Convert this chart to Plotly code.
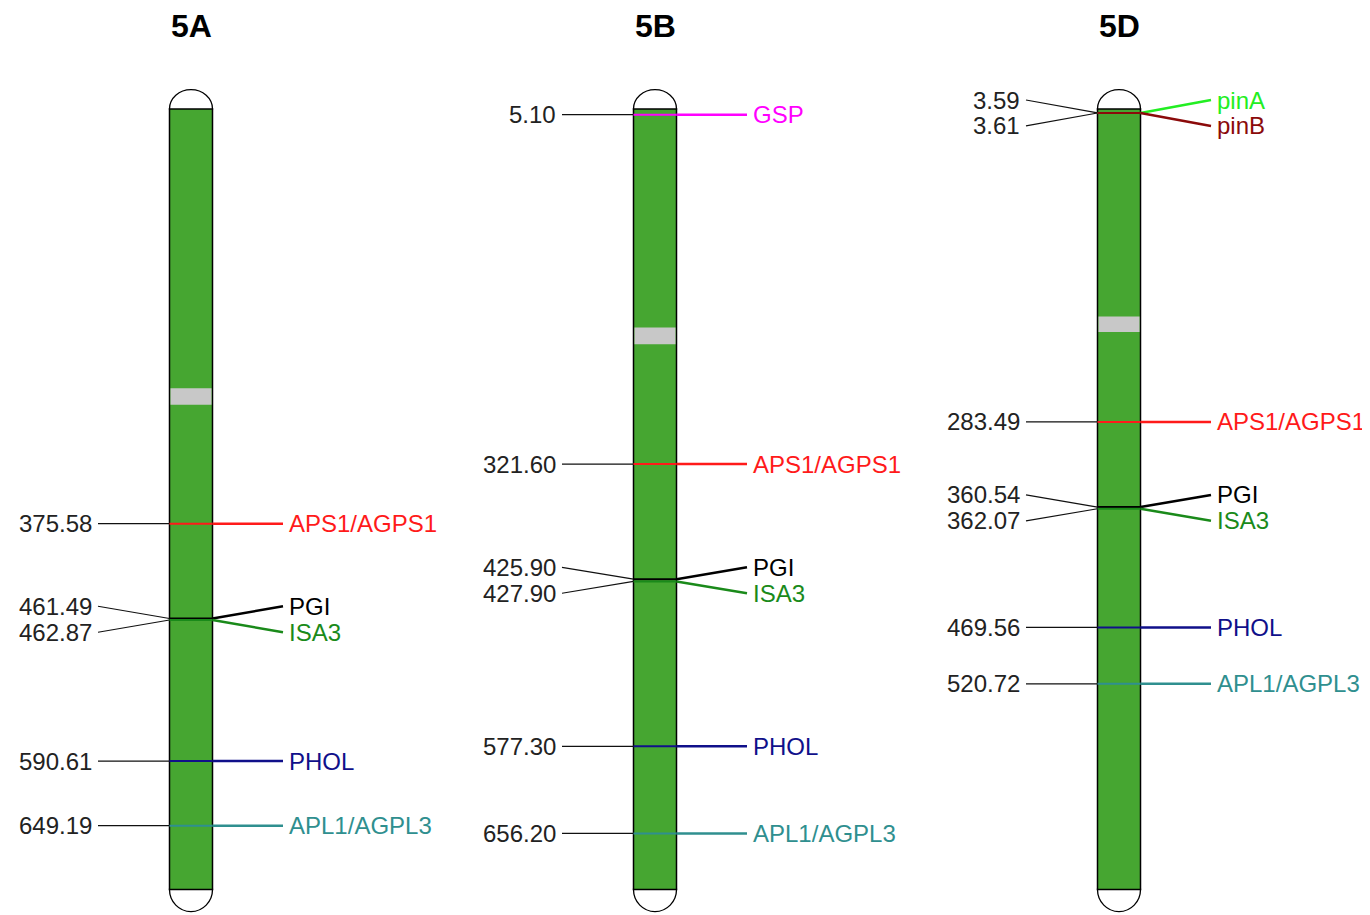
import plotly.graph_objects as go

# ---------------- data ----------------
chromosomes = ["5A", "5B", "5D"]
chrom_length = [707, 707, 707]          # Mb (drawn length)
cen_start = [253, 198, 188]             # centromere band start (Mb)
cen_end = [268, 213, 202]               # centromere band end (Mb)

genes_5A = ["APS1/AGPS1", "PGI", "ISA3", "PHOL", "APL1/AGPL3"]
pos_5A = [375.58, 461.49, 462.87, 590.61, 649.19]

genes_5B = ["GSP", "APS1/AGPS1", "PGI", "ISA3", "PHOL", "APL1/AGPL3"]
pos_5B = [5.10, 321.60, 425.90, 427.90, 577.30, 656.20]

genes_5D = ["pinA", "pinB", "APS1/AGPS1", "PGI", "ISA3", "PHOL", "APL1/AGPL3"]
pos_5D = [3.59, 3.61, 283.49, 360.54, 362.07, 469.56, 520.72]

gene_colors = {
    "APS1/AGPS1": "#ff1a1a",
    "PGI": "#000000",
    "ISA3": "#1a8a1a",
    "PHOL": "#10108a",
    "APL1/AGPL3": "#2f8f8f",
    "GSP": "#ff00ff",
    "pinA": "#22ee22",
    "pinB": "#8b0a0a",
}

all_genes = [genes_5A, genes_5B, genes_5D]
all_pos = [pos_5A, pos_5B, pos_5D]

# ---------------- layout constants ----------------
PAGE_OFF = 8                      # default body margin of the html page
W, H = 1370 - PAGE_OFF, 915 - PAGE_OFF
PX_PER_MB = 1.104
TOP_PX = 109 - PAGE_OFF
X0, DX = 191, 464
HALF = 21.5
LINE_L = 93
LINE_R = 92
TEXT_GAP_L = 97
TEXT_GAP_R = 96
LABEL_GAP = 23.5
GREEN = "#46a631"
FONT = "Liberation Sans, Arial, sans-serif"

y_top = -TOP_PX / PX_PER_MB
y_bot = y_top + H / PX_PER_MB


def spread(pos, gap=LABEL_GAP):
    order = sorted(range(len(pos)), key=lambda i: pos[i])
    groups, cur = [], [order[0]]
    for i in order[1:]:
        if pos[i] - pos[cur[-1]] < gap:
            cur.append(i)
        else:
            groups.append(cur)
            cur = [i]
    groups.append(cur)
    lab = [0.0] * len(pos)
    for g in groups:
        m = sum(pos[i] for i in g) / len(g)
        n = len(g)
        for k, i in enumerate(g):
            lab[i] = m + (k - (n - 1) / 2) * gap
    return lab


fig = go.Figure()
shapes = []
annotations = []

for ci, name in enumerate(chromosomes):
    cx = X0 + DX * ci
    L = chrom_length[ci]
    xl, xr = cx - HALF, cx + HALF
    # caps
    shapes.append(dict(type="circle", xref="x", yref="y", x0=xl, x1=xr,
                       y0=-17.5, y1=17.5, fillcolor="white",
                       line=dict(color="black", width=1.3), layer="below"))
    shapes.append(dict(type="circle", xref="x", yref="y", x0=xl, x1=xr,
                       y0=L - 20, y1=L + 20, fillcolor="white",
                       line=dict(color="black", width=1.3), layer="below"))
    # body
    shapes.append(dict(type="rect", xref="x", yref="y", x0=xl, x1=xr,
                       y0=0, y1=L, fillcolor=GREEN,
                       line=dict(color="black", width=1.5), layer="below"))
    # centromere
    shapes.append(dict(type="rect", xref="x", yref="y", x0=xl + 1, x1=xr - 1,
                       y0=cen_start[ci], y1=cen_end[ci], fillcolor="#c8c8c8",
                       line=dict(width=0), layer="below"))
    # title
    annotations.append(dict(x=cx, y=y_top + (26 - PAGE_OFF) / PX_PER_MB,
                            xref="x", yref="y",
                            text=name, showarrow=False, xanchor="center",
                            yanchor="middle",
                            font=dict(family=FONT, size=32, color="black",
                                      weight=700)))

    genes = all_genes[ci]
    pos = all_pos[ci]
    lab = spread(pos)
    for gi, g in enumerate(genes):
        col = gene_colors[g]
        p = pos[gi]
        ly = lab[gi]
        # left connector (black)
        fig.add_trace(go.Scatter(x=[cx - LINE_L, xl], y=[ly, p], mode="lines",
                                 line=dict(color="#111111", width=1.2),
                                 hoverinfo="skip", showlegend=False))
        # across chromosome
        fig.add_trace(go.Scatter(x=[xl, xr], y=[p, p], mode="lines",
                                 line=dict(color=col, width=2),
                                 hoverinfo="skip", showlegend=False))
        # right connector (coloured)
        fig.add_trace(go.Scatter(x=[xr, cx + LINE_R], y=[p, ly], mode="lines",
                                 line=dict(color=col, width=2.5),
                                 hoverinfo="skip", showlegend=False))
        annotations.append(dict(x=cx - TEXT_GAP_L, y=ly, xref="x", yref="y",
                                text=f"{p:.2f}", showarrow=False,
                                xanchor="right", yanchor="middle",
                                font=dict(family=FONT, size=24, color="#222222")))
        annotations.append(dict(x=cx + TEXT_GAP_R, y=ly, xref="x", yref="y",
                                text=g, showarrow=False,
                                xanchor="left", yanchor="middle",
                                font=dict(family=FONT, size=24, color=col)))

fig.update_layout(
    width=W, height=H,
    margin=dict(l=0, r=0, t=0, b=0),
    paper_bgcolor="white", plot_bgcolor="white",
    shapes=shapes, annotations=annotations,
    showlegend=False,
    xaxis=dict(range=[PAGE_OFF, PAGE_OFF + W], visible=False, fixedrange=True),
    yaxis=dict(range=[y_bot, y_top], visible=False, fixedrange=True),
)

fig.write_html("out.html")
